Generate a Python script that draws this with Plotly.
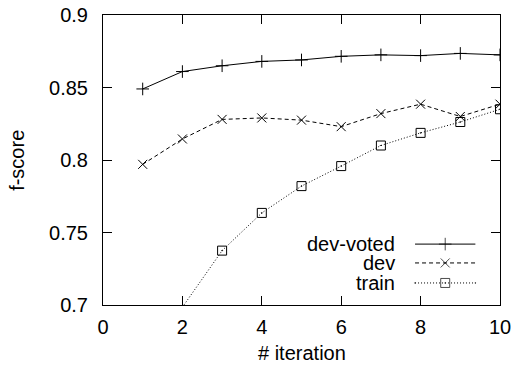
import plotly.graph_objects as go

iterations = [1, 2, 3, 4, 5, 6, 7, 8, 9, 10]
dev_voted = [0.849, 0.861, 0.865, 0.868, 0.869, 0.8715, 0.8725, 0.872, 0.8735, 0.8725]
dev = [0.797, 0.8145, 0.828, 0.829, 0.8275, 0.823, 0.832, 0.8385, 0.830, 0.8385]
train_x = [2, 3, 4, 5, 6, 7, 8, 9, 10]
train = [0.6985, 0.7375, 0.7635, 0.782, 0.7958, 0.810, 0.8187, 0.8262, 0.835]

series_names = ["dev-voted", "dev", "train"]
x_ticks = [0, 2, 4, 6, 8, 10]
y_ticks = [0.7, 0.75, 0.8, 0.85, 0.9]
y_tick_text = ["0.7", "0.75", "0.8", "0.85", "0.9"]
x_title = "# iteration"
y_title = "f-score"

Y_MIN, Y_MAX = 0.7, 0.9
FONT = "Liberation Sans, Arial, sans-serif"
FS = 20

styles = [
    dict(dash="solid", symbol="cross-thin-open", size=9),
    dict(dash="4px,3px", symbol="x-thin-open", size=9),
    dict(dash="1px,2px", symbol="square-open-dot", size=9),
]

fig = go.Figure()
data = [(iterations, dev_voted), (iterations, dev), (train_x, train)]
for (xs, ys), st, name in zip(data, styles, series_names):
    op = [1 if Y_MIN <= v <= Y_MAX else 0 for v in ys]
    fig.add_trace(go.Scatter(
        x=xs, y=ys, mode="lines+markers", name=name, showlegend=False,
        line=dict(color="black", width=1, dash=st["dash"]),
        marker=dict(symbol=st["symbol"], size=st["size"], color="black",
                    opacity=op, line=dict(color="black", width=1)),
        cliponaxis=True,
    ))

# manual gnuplot-style legend (text left, sample right) on an overlay axis
leg_rows = [0.210, 0.145, 0.076]
for st, name, yy in zip(styles, series_names, leg_rows):
    fig.add_trace(go.Scatter(
        x=[0.786, 0.862, 0.938], y=[yy, yy, yy], mode="lines+markers",
        xaxis="x2", yaxis="y2", showlegend=False, hoverinfo="skip",
        line=dict(color="black", width=1, dash=st["dash"]),
        marker=dict(symbol=st["symbol"], size=[0, st["size"], 0], color="black",
                    line=dict(color="black", width=1)),
    ))
    fig.add_annotation(x=0.738, y=yy, xref="x2", yref="y2", text=name,
                       showarrow=False, xanchor="right", yanchor="middle",
                       borderpad=0,
                       font=dict(family=FONT, size=FS, color="black"))

# axis titles
fig.add_annotation(x=0.5, y=-0.167, xref="paper", yref="paper", text=x_title,
                   showarrow=False, xanchor="center", yanchor="middle",
                   borderpad=0,
                   font=dict(family=FONT, size=FS, color="black"))
fig.add_annotation(x=-0.217, y=0.5, xref="paper", yref="paper", text=y_title,
                   showarrow=False, xanchor="center", yanchor="middle",
                   textangle=-90,
                   font=dict(family=FONT, size=FS, color="black"))

axis_common = dict(
    showgrid=False, zeroline=False, ticks="inside", ticklen=9,
    tickcolor="black", tickwidth=1, showline=True, linecolor="black",
    linewidth=1, mirror="ticks", automargin=False, ticklabeloverflow="allow",
    tickfont=dict(family=FONT, size=FS, color="black"),
)

fig.update_layout(
    width=513, height=366,
    margin=dict(l=103, r=13, t=15, b=61),
    paper_bgcolor="white", plot_bgcolor="white",
    font=dict(family=FONT, size=FS, color="black"),
    xaxis=dict(range=[0, 10], tickvals=x_ticks, ticklabelstandoff=4,
               **axis_common),
    yaxis=dict(range=[Y_MIN, Y_MAX], tickvals=y_ticks, ticktext=y_tick_text,
               ticklabelstandoff=10, **axis_common),
    xaxis2=dict(range=[0, 1], overlaying="x", visible=False, anchor="y2"),
    yaxis2=dict(range=[0, 1], overlaying="y", visible=False, anchor="x2"),
)

# remove the browser's default body margin so the figure fills the window
fig.write_html(
    "out.html",
    config={"displayModeBar": False},
    post_script="document.body.style.margin='0';document.body.style.overflow='hidden';",
)
